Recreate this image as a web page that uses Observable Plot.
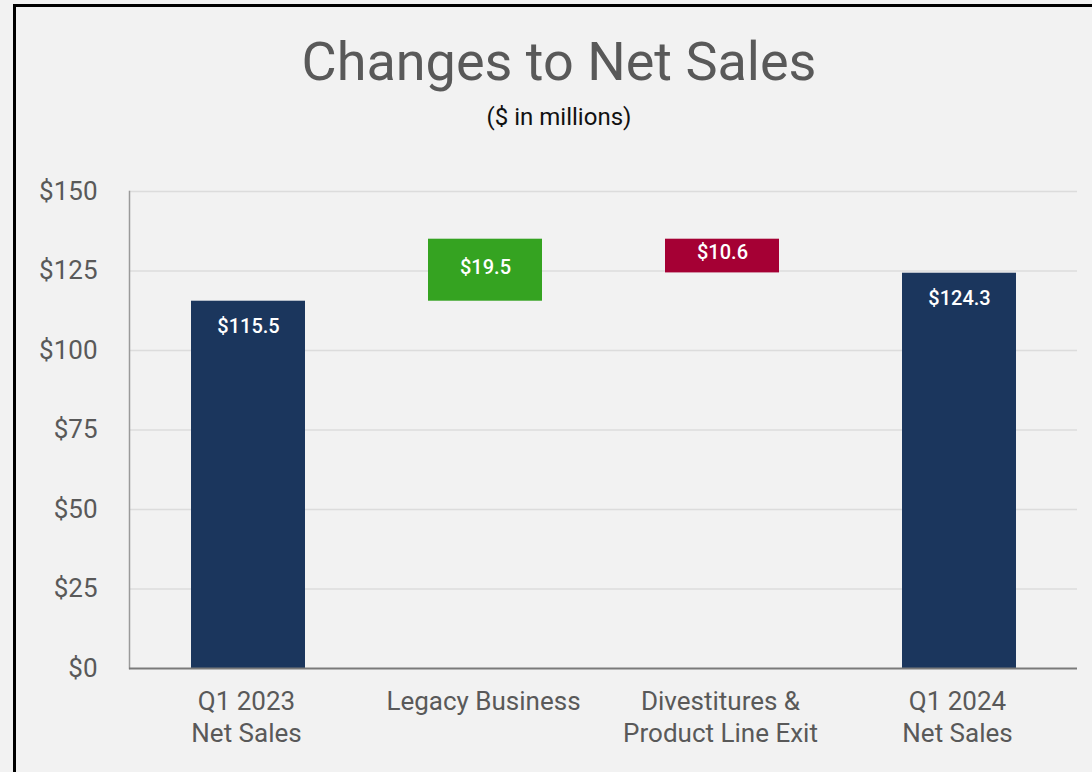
<!DOCTYPE html>
<html>
<head>
<meta charset="utf-8">
<script src="https://cdn.jsdelivr.net/npm/d3@7"></script>
<script src="https://cdn.jsdelivr.net/npm/@observablehq/plot@0.6"></script>
<style>
  html, body { margin: 0; padding: 0; }
  body { width: 1092px; height: 772px; overflow: hidden; background: #f2f2f2; position: relative; font-family: Roboto, sans-serif; }
  #frame { position: absolute; left: 13px; top: 4px; width: 1200px; height: 900px; border-left: 3px solid #000; border-top: 3px solid #000; }
  #title { position: absolute; left: 17px; width: 1084px; top: 32px; text-align: center; font-size: 54px; line-height: 60px; color: #595959; }
  #subtitle { position: absolute; left: 17px; width: 1084px; top: 103px; text-align: center; font-size: 24px; line-height: 28px; color: #111; }
  #chart { position: absolute; left: 0; top: 150px; }
</style>
</head>
<body>
<div id="frame"></div>
<div id="title">Changes to Net Sales</div>
<div id="subtitle">($ in millions)</div>
<div id="chart"></div>
<script>
const categories = ["Q1 2023\nNet Sales", "Legacy Business", "Divestitures &\nProduct Line Exit", "Q1 2024\nNet Sales"];
const values = [115.5, 19.5, -10.6, 124.3];
const kinds = ["total", "increase", "decrease", "total"];
const labels = ["$115.5", "$19.5", "$10.6", "$124.3"];
const yTicks = [0, 25, 50, 75, 100, 125, 150];
const colors = { total: "#1b365d", increase: "#35a321", decrease: "#a50034" };

let running = 0;
const rows = categories.map((c, i) => {
  let y1, y2;
  if (kinds[i] === "total") { y1 = 0; y2 = values[i]; running = values[i]; }
  else { y1 = running; y2 = running + values[i]; running = y2; }
  return { cat: c, y1, y2, kind: kinds[i], label: labels[i] };
});

const chart = Plot.plot({
  width: 1092,
  height: 622,
  marginTop: 41,
  marginBottom: 104,
  marginLeft: 129,
  marginRight: 15,
  style: { fontFamily: "Roboto, sans-serif", background: "transparent", overflow: "visible" },
  x: { type: "band", domain: categories, paddingInner: 0.52, paddingOuter: 0.26, label: null },
  y: { domain: [0, 150], label: null },
  marks: [
    Plot.gridY(yTicks.slice(1), { stroke: "#dcdcdc", strokeOpacity: 1, strokeWidth: 1.5 }),
    Plot.frame({ anchor: "left", stroke: "#9a9a9a", strokeWidth: 1.5 }),
    Plot.barY(rows, { x: "cat", y1: "y1", y2: "y2", fill: d => colors[d.kind] }),
    Plot.ruleY([0], { stroke: "#7a7a7a", strokeWidth: 2 }),
    Plot.text(rows.filter(d => d.kind === "total"), {
      x: "cat", y: "y2", text: "label", dy: 25, fill: "white", fontSize: 20, fontWeight: 500
    }),
    Plot.text(rows.filter(d => d.kind !== "total"), {
      x: "cat", y: d => (d.y1 + d.y2) / 2, text: "label", dy: -3, fill: "white", fontSize: 20, fontWeight: 500
    }),
    Plot.axisY({ ticks: yTicks, tickFormat: d => "$" + d, tickSize: 0, tickPadding: 32, fontSize: 26, color: "#595959", label: null }),
    Plot.axisX({ tickSize: 0, tickPadding: 19, dx: -2, fontSize: 26, lineHeight: 1.23, color: "#595959", label: null })
  ]
});
document.getElementById("chart").appendChild(chart);
</script>
</body>
</html>
